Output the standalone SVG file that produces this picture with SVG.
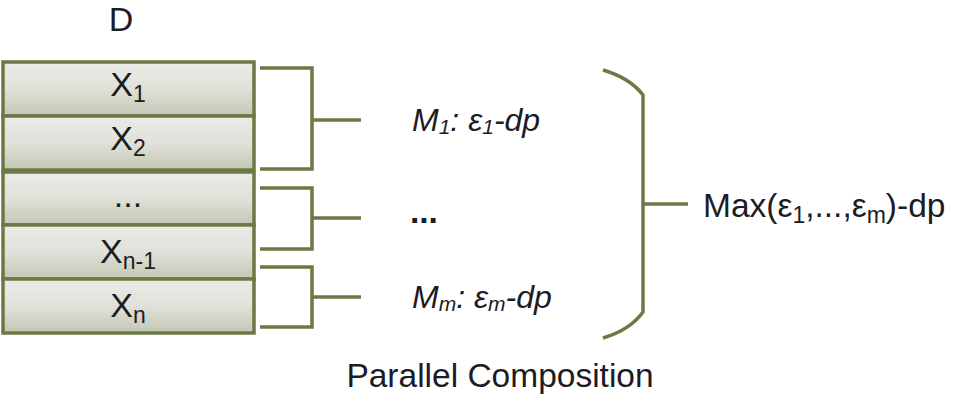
<svg xmlns="http://www.w3.org/2000/svg" width="960" height="402" viewBox="0 0 960 402">
<defs>
<linearGradient id="g" x1="0" y1="0" x2="0" y2="1">
<stop offset="0" stop-color="#ececE8"/>
<stop offset="0.5" stop-color="#e0e1d9"/>
<stop offset="1" stop-color="#c4c7b4"/>
</linearGradient>
</defs>
<style>
.box{fill:url(#g);stroke:#6b7a44;stroke-width:3.5}
.ln{fill:none;stroke:#6b7a44;stroke-width:3.5}
.t{font-family:"Liberation Sans",Arial,sans-serif;fill:#1c1c24;font-size:33.5px}
.x{font-family:"Liberation Sans",Arial,sans-serif;fill:#1c1c24;font-size:34px}
.i{font-family:"Liberation Sans",Arial,sans-serif;font-style:italic;fill:#1c1c24;font-size:32px}
</style>
<rect width="960" height="402" fill="#fff"/>
<text class="x" x="121" y="31" text-anchor="middle">D</text>
<g id="x1"><rect class="box" x="3" y="62" width="251" height="54"/><text class="x" x="128" y="96" text-anchor="middle">X<tspan font-size="23" dy="6">1</tspan></text></g>
<g id="x2"><rect class="box" x="3" y="116" width="251" height="54"/><text class="x" x="128" y="150" text-anchor="middle">X<tspan font-size="23" dy="6">2</tspan></text></g>
<g id="x3"><rect class="box" x="3" y="172" width="251" height="53"/><text class="x" x="128" y="207" text-anchor="middle">...</text></g>
<g id="x4"><rect class="box" x="3" y="225" width="251" height="54"/><text class="x" x="128" y="263" text-anchor="middle">X<tspan font-size="23" dy="6">n-1</tspan></text></g>
<g id="x5"><rect class="box" x="3" y="279" width="251" height="54"/><text class="x" x="128" y="317" text-anchor="middle">X<tspan font-size="23" dy="6">n</tspan></text></g>
<g id="connectors">
<path class="ln" d="M260 68H312V169H260M312 120H361"/>
<path class="ln" d="M260 188H312V249H260M312 218H361"/>
<path class="ln" d="M260 267H312V327H260M312 297H361"/>
<path class="ln" d="M603 70Q630 78 643 95V312Q630 330 603 338M643 204H688"/>
</g>
<g id="m1"><text class="i" x="412" y="131">M<tspan font-size="21" dy="3">1</tspan><tspan dy="-3">: ε</tspan><tspan font-size="21" dy="3">1</tspan><tspan dy="-3">-dp</tspan></text></g>
<g id="mdots"><text class="t" x="410" y="223" font-weight="bold">...</text></g>
<g id="mm"><text class="i" x="412" y="308">M<tspan font-size="21" dy="3">m</tspan><tspan dy="-3">: ε</tspan><tspan font-size="21" dy="3">m</tspan><tspan dy="-3">-dp</tspan></text></g>
<g id="max"><text class="t" x="703" y="217">Max(ε<tspan font-size="23" dy="6">1</tspan><tspan dy="-6">,...,ε</tspan><tspan font-size="23" dy="6">m</tspan><tspan dy="-6">)-dp</tspan></text></g>
<text class="t" x="500" y="387" text-anchor="middle">Parallel Composition</text>
</svg>
